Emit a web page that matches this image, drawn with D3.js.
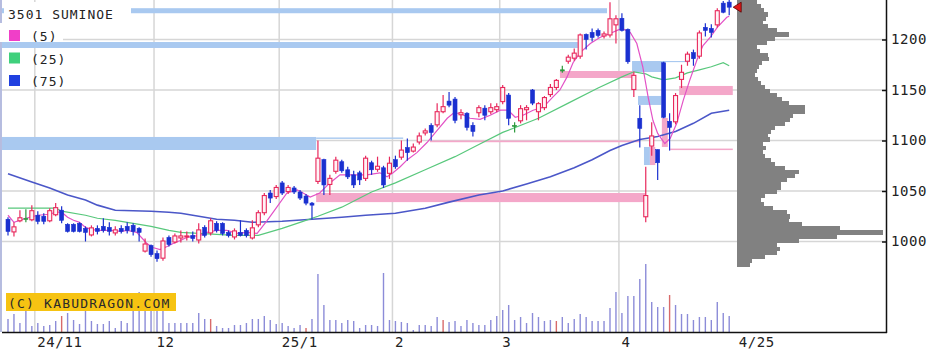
<!DOCTYPE html>
<html><head><meta charset="utf-8">
<script src="https://cdn.jsdelivr.net/npm/d3@7"></script>
<style>html,body{margin:0;padding:0;background:#fff}svg{display:block}
text{font-family:"DejaVu Sans Mono",monospace}</style>
</head><body><svg id="c" width="948" height="361"></svg>
<script>
// ---------------- DATA ----------------
const title = "3501 SUMINOE";
const maLabels = ["(5)", "(25)", "(75)"];
const priceTicks = [1000, 1050, 1100, 1150, 1200];
const dateLabels = ["24/11", "12", "25/1", "2", "3", "4", "4/25"];
const dateLabelIdx = [5, 25, 46, 65, 83, 103, 121];
const monthIdx = [5, 25, 46, 65, 83, 103];

const openP = [1022,1009,1020,1023,1021,1026,1025,1020,1026,1031,
 1017,1017,1018,1013,1006,1013,1015,1014,1008,1013,
 1015,1016,1013,990,996,988,983,1004,999,1003,
 1004,1006,1001,1014,1008,1018,1018,1009,1004,1009,
 1011,1003,1016,1028,1048,1044,1058,1049,1053,1049,
 1045,1038,1059,1081,1056,1069,1079,1071,1066,1068,
 1062,1078,1071,1073,1067,1081,1083,1093,1089,1098,
 1107,1115,1115,1128,1139,1141,1125,1127,1115,1127,
 1132,1128,1130,1138,1145,1115,1119,1130,1150,1128,
 1132,1145,1152,1170,1178,1181,1183,1205,1207,1209,
 1203,1204,1214,1221,1210,1150,1122,1024,1094,1091,
 1177,1119,1118,1160,1178,1187,1183,1212,1211,1214,
 1236,1237];
const closeP = [1010,1015,1024,1023,1031,1020,1020,1031,1034,1021,
 1010,1010,1010,1009,1014,1010,1011,1010,1012,1010,
 1011,1010,1009,998,987,983,1001,997,1006,1006,
 1006,1003,1012,1006,1021,1011,1008,1006,1011,1006,
 1006,1014,1029,1046,1043,1054,1048,1054,1049,1043,
 1038,1036,1083,1056,1063,1081,1070,1064,1056,1061,
 1083,1071,1075,1056,1078,1074,1091,1088,1094,1105,
 1110,1108,1129,1134,1135,1120,1128,1113,1109,1133,
 1125,1133,1134,1153,1122,1115,1132,1133,1137,1137,
 1143,1153,1160,1170,1183,1187,1205,1200,1202,1204,
 1206,1221,1221,1209,1178,1165,1112,1046,1105,1078,
 1123,1113,1145,1168,1186,1181,1207,1209,1207,1229,
 1227,1232];
const highP = [1024,1019,1031,1032,1036,1030,1028,1033,1038,1035,
 1018,1018,1019,1015,1016,1016,1023,1019,1015,1016,
 1019,1018,1014,1003,997,991,1004,1006,1008,1011,
 1010,1010,1018,1016,1023,1020,1019,1011,1013,1021,
 1013,1021,1031,1048,1051,1056,1060,1056,1055,1051,
 1047,1039,1100,1082,1066,1084,1081,1074,1070,1070,
 1085,1080,1084,1075,1084,1085,1100,1102,1097,1108,
 1112,1117,1137,1145,1148,1143,1131,1128,1118,1135,
 1135,1137,1137,1155,1147,1118,1135,1135,1151,1138,
 1144,1156,1161,1174,1185,1191,1206,1206,1211,1211,
 1208,1237,1224,1226,1211,1168,1135,1074,1118,1091,
 1178,1127,1147,1175,1188,1190,1209,1216,1215,1231,
 1238,1239];
const lowP = [1006,1005,1019,1019,1020,1017,1017,1019,1025,1018,
 1009,1009,1009,1000,1005,1007,1009,1006,1006,1008,
 1008,1006,1000,989,985,980,981,995,998,999,
 1001,1000,998,1004,1006,1009,1006,1004,1002,1005,
 1004,1002,1014,1026,1038,1042,1046,1047,1047,1041,
 1036,1022,1057,1046,1046,1067,1068,1062,1053,1056,
 1060,1066,1069,1053,1062,1072,1081,1080,1088,1096,
 1105,1100,1113,1127,1133,1117,1121,1110,1104,1123,
 1120,1126,1128,1136,1115,1108,1117,1120,1135,1120,
 1130,1143,1150,1167,1176,1179,1181,1190,1198,1202,
 1201,1202,1196,1208,1176,1143,1093,1019,1085,1061,
 1122,1090,1116,1152,1174,1174,1181,1203,1202,1212,
 1226,1224];
const volume = [13,18,9,21,6,9,6,7,11,16,
 19,12,8,21,11,8,8,11,4,11,
 9,21,40,38,30,26,21,9,9,9,
 9,9,19,13,13,6,4,4,7,7,
 9,13,13,16,12,8,9,6,4,7,
 4,13,58,27,12,12,9,12,11,4,
 7,7,6,59,12,11,10,9,2,7,
 7,6,15,12,10,11,6,12,9,7,
 7,12,16,22,27,12,15,9,19,15,
 11,12,11,15,9,13,18,15,11,11,
 11,24,40,19,36,36,53,68,30,25,
 25,37,27,18,18,12,15,15,12,30,19,16];
const volRedIdx = [9, 34, 50, 73, 92, 111];

const ma5Idx = [0,1,3,5,7,8,9,10,11,12,13,14,15,17,19,20,21.6,23.3,24.3,25.5,26.7,27.7,28.9,30,31,32.2,33.4,35,36.7,38.4,40.1,41.8,43.5,45.1,46.8,48.5,49.5,50.7,52.3,54,55.7,57.9,60.2,62.4,63.6,64.6,65.8,67,68.6,70.3,72,73.7,74.7,75.8,77.5,79.2,80.9,82.6,83.9,85.1,86.4,88.1,89.8,91.4,92.6,93.8,94.8,96,97.7,99.3,101,102.2,103,104.4,105.5,106.5,107.4,108.2,109,110.2,111.1,112.2,113.3,114.4,115.6,116.6,117.8,119,120.6,121];
const ma5Val = [1026,1019,1023,1026,1027,1029,1029,1024,1021,1019,1014,1012,1011,1011,1010,1011,1009,998,994,992,995,998,1001,1004,1005,1006,1009,1011,1011,1008,1009,1008,1021,1034,1048,1051,1048,1044,1048,1058,1066,1066,1066,1068,1064,1068,1074,1081,1088,1098,1110,1122,1127,1127,1122,1121,1125,1130,1130,1123,1125,1130,1133,1143,1150,1163,1177,1187,1196,1202,1206,1209,1211,1207,1196,1173,1143,1120,1107,1097,1102,1117,1140,1160,1180,1194,1202,1212,1222,1223];

const ma25Idx = [0,8,9,13,15,18,21,24,27,29,32,35,38,42,46,49,52,56,61,65,70,75,79,83,89,94,99,103,105,107,108,110,112,114,116,118,120,121];
const ma25Val = [1033,1033,1030,1026,1023,1021,1018,1015,1011,1009,1008,1007,1006,1006,1013,1019,1025,1034,1049,1058,1071,1084,1096,1108,1122,1137,1152,1163,1168,1166,1163,1160,1162,1167,1170,1173,1177,1174];

const ma75Idx = [0,4,7,10,13,15,18,24,27,29,32,35,38,41,46,51,56,60,65,70,74,79,83,87,91,95,98,101,103,106,109,112,115,118,121];
const ma75Val = [1067,1059,1053,1046,1041,1036,1031,1030,1029,1028,1025,1022,1021,1019,1020,1022,1024,1026,1028,1033,1039,1046,1050,1057,1064,1073,1081,1090,1095,1101,1104,1109,1117,1127,1130];

// price-by-volume profile (top bin price 1239, 4-yen bins going down)
const profileTop = 1239, profileStep = 4;
const profileVol = [20,24,27,31,29,26,31,40,52,38,
 30,20,23,31,32,25,22,20,18,21,
 24,28,33,40,45,52,68,68,56,53,
 48,38,34,31,33,26,29,26,28,34,
 38,48,62,58,50,44,44,40,28,24,
 27,36,50,53,52,65,103,146,100,62,
 40,43,40,28,15,13];

// price zones: [startIdx, endIdx, priceHigh, priceLow]
const blueZones = [[-1.4,100.5,1231,1226],[-1.4,95.6,1197.5,1191.6],[-1.4,51.7,1103.5,1090.6],
 [51.7,66.3,1103,1101.6],[104.7,109.9,1178.7,1167.8],[109.9,114.4,1178.7,1177.6],
 [105.7,109.6,1144.1,1135.2],[106.7,107.7,1093.6,1075.7]];
const pinkZones = [[92.6,104.9,1168.8,1161.9],[112.6,121.6,1154,1145],[51.7,106.9,1048,1039],
 [70.8,106,1100,1098.3],[111.1,121.6,1092,1090.5],[107.7,108.6,1093.6,1075.7],[109.7,110.7,1122.3,1093.6]];

// ---------------- DRAW ----------------
const svg = d3.select("#c");
const xL = 2, xR = 886, yB = 332;
const x = d3.scaleLinear().domain([0, 121]).range([8, 729.2]);
const y = d3.scaleLinear().domain([1000, 1200]).range([241.5, 39.5]);
const yv = d3.scaleLinear().domain([0, 77]).range([yB, 255]);
const half = (x(1) - x(0)) / 2;

svg.append("defs").append("clipPath").attr("id","clip")
  .append("rect").attr("x",xL).attr("y",0).attr("width",xR-xL).attr("height",yB);
const plot = svg.append("g").attr("clip-path","url(#clip)");

// gridlines
plot.append("g").selectAll("line").data(priceTicks).join("line")
  .attr("x1", xL).attr("x2", xR).attr("y1", d => y(d)).attr("y2", d => y(d))
  .attr("stroke", "#d6d6d6").attr("stroke-width", 1.5);
plot.append("g").selectAll("line").data(monthIdx).join("line")
  .attr("x1", d => x(d) - half).attr("x2", d => x(d) - half).attr("y1", 0).attr("y2", yB)
  .attr("stroke", "#d6d6d6").attr("stroke-width", 1.5);

// zones
function zones(data, color) {
  plot.append("g").selectAll("rect").data(data).join("rect")
    .attr("x", d => Math.max(0, x(d[0]))).attr("width", d => x(d[1]) - Math.max(0, x(d[0])))
    .attr("y", d => y(d[2])).attr("height", d => y(d[3]) - y(d[2]))
    .attr("fill", color);
}
zones(blueZones, "#a9c9f0");
zones(pinkZones, "#f4a7c9");

// volume profile
const prof = profileVol.map((v, k) => ({v, top: profileTop - profileStep * k, bot: profileTop - profileStep * (k + 1)}));
plot.append("g").selectAll("rect").data(prof).join("rect")
  .attr("x", 737).attr("width", d => d.v)
  .attr("y", d => y(d.top)).attr("height", d => y(d.bot) - y(d.top) + 0.3)
  .attr("fill", "#818181").attr("shape-rendering", "crispEdges");

// volume bars
const vdata = volume.map((v, i) => ({i, v}));
plot.append("g").selectAll("line").data(vdata).join("line")
  .attr("x1", d => x(d.i)).attr("x2", d => x(d.i)).attr("y1", yB).attr("y2", d => yv(d.v))
  .attr("stroke", d => volRedIdx.includes(d.i) ? "#d86a6a" : "#8c8cd8").attr("stroke-width", 1.4);

// moving averages
const line = d3.line().x(d => x(d[0])).y(d => y(d[1]));
function ma(idx, val, color, w) {
  plot.append("path").datum(idx.map((d, k) => [d, val[k]])).attr("d", line)
    .attr("fill", "none").attr("stroke", color).attr("stroke-width", w);
}
ma(ma75Idx, ma75Val, "#4b57c8", 1.6);
ma(ma25Idx, ma25Val, "#58c87c", 1.2);
ma(ma5Idx, ma5Val, "#e352c6", 1.2);

// candles
const cdata = openP.map((o, i) => ({i, o, c: closeP[i], h: highP[i], l: lowP[i]}));
const col = d => d.c > d.o ? "#e8285c" : (d.c < d.o ? "#1a30d0" : "#2c9a3c");
const cg = plot.append("g");
cg.selectAll("line").data(cdata).join("line")
  .attr("x1", d => x(d.i)).attr("x2", d => x(d.i)).attr("y1", d => y(d.h)).attr("y2", d => y(d.l))
  .attr("stroke", col).attr("stroke-width", 1.2);
cg.selectAll("rect").data(cdata).join("rect")
  .attr("x", d => x(d.i) - 2).attr("width", 4)
  .attr("y", d => y(Math.max(d.o, d.c)) + (d.c > d.o ? 0.5 : 0))
  .attr("height", d => Math.max(d.c > d.o ? 0.8 : 1.2, Math.abs(y(d.o) - y(d.c)) - (d.c > d.o ? 1 : 0)))
  .attr("fill", d => d.c > d.o ? "#fff3f6" : col(d))
  .attr("stroke", col).attr("stroke-width", d => d.c > d.o ? 1.1 : 0.6);

// last price marker
const lastI = closeP.length - 1;
const ly = y(closeP[lastI]);
svg.append("path")
  .attr("d", `M${x(lastI) + 4},${ly} L${x(lastI) + 12},${ly - 5} L${x(lastI) + 12},${ly + 5} Z`)
  .attr("fill", "#e01818").attr("stroke", "#5a0000").attr("stroke-width", 0.8);

// axes frame
svg.append("line").attr("x1", 1).attr("x2", 1).attr("y1", 0).attr("y2", yB).attr("stroke", "#a4acd8").attr("stroke-width", 1.6);
svg.append("line").attr("x1", xR + 0.5).attr("x2", xR + 0.5).attr("y1", 0).attr("y2", yB + 1).attr("stroke", "#111").attr("stroke-width", 1.5);
svg.append("line").attr("x1", xL).attr("x2", xR + 1).attr("y1", yB + 0.5).attr("y2", yB + 0.5).attr("stroke", "#111").attr("stroke-width", 1.5);

const ya = svg.append("g").attr("transform", `translate(${xR},0)`)
  .call(d3.axisRight(y).tickValues(priceTicks).tickFormat(d3.format("d"))
    .tickSizeInner(-4).tickSizeOuter(0).tickPadding(5));
ya.select(".domain").remove();
ya.selectAll("line").attr("stroke", "#111").attr("stroke-width", 1.5);
ya.selectAll("text").attr("font-family", "DejaVu Sans Mono").attr("font-size", 14)
  .attr("letter-spacing", 0.6).attr("fill", "#222");

const xa = svg.append("g").attr("transform", `translate(0,${yB})`)
  .call(d3.axisBottom(x).tickValues(dateLabelIdx).tickFormat((d, k) => dateLabels[k]).tickSize(0).tickPadding(5));
xa.select(".domain").remove();
xa.selectAll("text").attr("font-family", "DejaVu Sans Mono").attr("font-size", 14)
  .attr("letter-spacing", 0.6).attr("fill", "#222").attr("text-anchor", "start")
  .attr("x", (d, k) => k === dateLabels.length - 1 ? 9 : -1);

// watermark
svg.append("rect").attr("x", 6).attr("y", 293).attr("width", 170).attr("height", 18).attr("fill", "#f6c312");
svg.append("text").attr("x", 8).attr("y", 308).attr("font-size", 13).attr("letter-spacing", 1.2)
  .attr("fill", "#2a2a2a").text("(C) KABUDRAGON.COM");

// legend
svg.append("rect").attr("x", 4).attr("y", 2).attr("width", 127).attr("height", 21).attr("fill", "#fff");
svg.append("rect").attr("x", 0).attr("y", 23).attr("width", 63).attr("height", 19).attr("fill", "#fff");
svg.append("text").attr("x", 8).attr("y", 19).attr("font-size", 13).attr("letter-spacing", 1)
  .attr("fill", "#222").text(title);
const legColors = ["#f03fc8", "#3fd07c", "#2040e0"];
const lg = svg.append("g").selectAll("g").data(maLabels).join("g")
  .attr("transform", (d, k) => `translate(0,${30 + k * 22.5})`);
lg.append("rect").attr("x", 9).attr("y", 0).attr("width", 11).attr("height", 11).attr("fill", (d, k) => legColors[k]);
lg.append("text").attr("x", 31).attr("y", 11).attr("font-size", 13).attr("letter-spacing", 1)
  .attr("fill", "#222").text(d => d);
</script></body></html>
